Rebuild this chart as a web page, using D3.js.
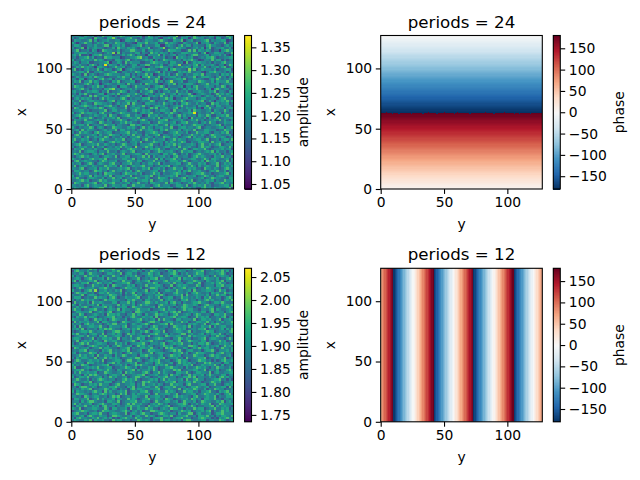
<!DOCTYPE html>
<html>
<head>
<meta charset="utf-8">
<script src="https://cdn.jsdelivr.net/npm/d3@7"></script>
<style>
html,body{margin:0;padding:0;background:#fff}
svg{display:block}
text{font-family:"DejaVu Sans",sans-serif;fill:#000}
</style>
</head>
<body>
<svg id="chart" width="640" height="480"></svg>
<script>
const TITLE_24 = "periods = 24";
const TITLE_12 = "periods = 12";
const X_TICKS = [0, 50, 100];
const Y_TICKS = [0, 50, 100];
const AMP24_TICKS = [1.05, 1.10, 1.15, 1.20, 1.25, 1.30, 1.35];
const AMP12_TICKS = [1.75, 1.80, 1.85, 1.90, 1.95, 2.00, 2.05];
const PHASE_TICKS = [-150, -100, -50, 0, 50, 100, 150];
const AMP24_RANGE = [1.039, 1.376];
const AMP12_RANGE = [1.735, 2.069];
const PHASE_RANGE = [-180, 180];

// Amplitude level of each digit in the grids below
const AMP24_LEVELS = [1.06, 1.08, 1.10, 1.13, 1.17, 1.20, 1.235, 1.275, 1.31, 1.36];
const AMP12_LEVELS = [1.75, 1.77, 1.80, 1.825, 1.865, 1.895, 1.93, 1.97, 2.01, 2.05];

// Phase by x coordinate for periods = 24, x = 0..127
const PHASE24_BY_X = [6,8,11,14,17,20,22,25,28,31,34,36,39,42,45,48,50,53,56,59,62,64,67,70,73,76,78,81,84,87,90,92,95,98,101,104,106,109,112,115,118,120,123,126,129,132,134,137,140,143,146,148,151,154,157,160,162,165,168,171,174,176,179,
-179,-176,-174,-171,-168,-165,-162,-160,-157,-154,-151,-148,-146,-143,-140,-137,-134,-132,-129,-126,-123,-120,-118,-115,-112,-109,-106,-104,-101,-98,-95,-92,-90,-87,-84,-81,-78,-76,-73,-70,-67,-64,-62,-59,-56,-53,-50,-48,-45,-42,-39,-36,-34,-31,-28,-25,-22,-20,-17,-14,-11,-8,-6,-3,-1];
// Wrap-around cells along the seam of the periods = 24 phase panel
const SEAM_LOW_Y = [9,14,24,33,44,58,70,89,105,109,118];
const SEAM_HIGH_Y = [4,37,50,60,82,97];

// Phase by y coordinate for periods = 12, y = 0..127
const PHASE12_BY_Y = [72,83,95,106,117,129,140,152,163,174,
-174,-163,-152,-140,-129,-117,-106,-95,-83,-72,-60,-49,-38,-26,-15,-3,8,19,31,42,54,65,76,88,99,111,122,133,145,156,168,179,
-170,-158,-147,-136,-124,-113,-101,-90,-79,-67,-56,-45,-33,-22,-11,1,12,23,35,46,58,69,80,92,103,114,126,137,149,160,171,
-175,-164,-152,-141,-130,-118,-107,-96,-84,-73,-61,-50,-39,-27,-16,-5,7,18,30,41,52,64,75,86,98,109,121,132,143,155,166,177,
-171,-160,-149,-137,-126,-114,-103,-92,-80,-69,-58,-46,-35,-23,-12,-1,11,22,34,45,56,68,79];

// Amplitude grids, top row first, 64 x 64 levels
const AMP24_ROWS = [
"4554365462437556345764435566247534653345582446537435546635443765",
"5346654427554366853445674435356645325564743655247655345426634574",
"3655445736345564455236655743465544675433655724563445673545566234",
"6424575534656345476553443266574556344756543365445725564365447356",
"4665335546445773556463345567354446622565435746635544367554435645",
"5345726456554344637554656435557344568345476553345646257345564463",
"4573445365237655446345577544635645543476655334747365465344256755",
"3556664545443465827354454663543756465535344666545535724466553447",
"5647334256674555344464675354426555736445635553467744563555646325",
"4535567463443766555234455678453365546344275654563345466753445566",
"6344655547565344366546734544565625347655445365675423554746635345",
"4653556334455672446537465553344676554536644527346565545354467455",
"5546443675354946553645346635577445463356558344546736455643552476",
"3465756542665434575563446554423546675545344656536645743556467345",
"5734356454743655346724565443667554345626755443857346555463445663",
"4456647335565445673355454765355446736454336565744553246675545354",
"6545373564344676555446635354574623556463475535446657355445365647",
"3465455647655334446575536442668554734556645344557346665435745356",
"5536624553467456354564473555346457625344566573446554335647545463",
"4657355746535443657345566234555647453568445633555476544636555744",
"5344467535624565446553745446376555324465735456664345574556345566",
"4765534465756344552666434755545346675354445625536744565535476345",
"3456745355443667845345564644573556446735553464655744356267545534",
"5645346566535473445765355436456743535564474546335565446573554365",
"4536574434566255647344655753464535567445636555742456545347564653",
"6455343747545664353556745446235565474536455344676553465535744556",
"3564656534357465544675354554667344355756244567555346644553567443",
"5447345665544356735446655634545763445356645753445567346425565746",
"4653564437665545346455737544366554547545353667544645533756455634",
"5345676545344667453558346455745346656434565745445365574536644553",
"3764453556576345654447355664534757355644673546556342657445553566",
"4556645344455734664555346754656435466553745544637554456365447534",
"6345756655367445345765544535656744534657543455669354454755636445",
"4567344546545637553456744655237556454465357464545365476335565744",
"5436565753446455647344565573445564735556446355274554636457345566",
"3655474445655364456755345646753454566734555643465745345565746435",
"5744356654376455344657564435556344765545634667445535647553446556",
"4556647345544765635544377565344656445736556354457665344556735445",
"6435455763565344765544656435746535564547335664554673455445663557",
"4563746554345645573664545357456644365745546356547344665553447654",
"5347565436754566344556745644355676453345675546344755664355465734",
"3675445565364457655354647455364456735544656344575546435765544563",
"4556357446554763544645355674456535447664553456736455344675565345",
"5744656345367554465573446553574464556345746553445664573445356647",
"6435546754455346756445355647344576553646545763354466553745645354",
"4567345565744654534576445635556744353565746445565357446456734556",
"5346564473556345465746553844575635445664537455644357565344665474",
"3655745546443765556344676545354656745335564475346655743455564563",
"4547356665355474453565467344556345764556434755663454565736445356",
"5764544356467355644573445665374555436645753546345675445564635447",
"4356756445534665473556634455747364556453674455346756544365574553",
"6545344675565734454466557354565447363556745344566445753665445636",
"3674565544357645563445765466345574555346664575345546375564454735",
"5456346753565446744355674553546645735445566345754465634557346564",
"4735564465444756563745346556745534465673554446575364565447355646",
"5546734556365574445656734544657355646345755634656443755465346754",
"3665455347664535745546463575544566347455546365745564435657446355",
"4457566445353766544357655646344575635445676453345667545344556735",
"6346545736554647355564473445565734644556573446556345764535664455",
"5574435665446355745634556754465344766535445673554456345765544366",
"4456756344575644655367454355664734565547344665573454565635447556",
"3765445567346556744545635574453665544736565344657545464355674545",
"5545367456554734655466347555644356745553466547346565745344556637",
"4654556345677445365545763446555734465566345754645336755465544573"
];
const AMP12_ROWS = [
"5463445756345566744535465573644556345765344556637445565734465544",
"3675546445367554657344556645354765544365746553445667344556574635",
"4546635755443466545735664534557645634456753546445766345545675344",
"6354474565636544755346565744356645574453665544736556453474565536",
"4565356744556375446656345573454667355446547365564435765546344675",
"5736445657345544665475553464567345546745566344557654365446573554",
"3454667345764556345566743555446576345564745535664473455646755344",
"5665534475545363765544656345474556653447356565444763455536674556",
"4357645564466754533457665546345776454353645674556345476555634465",
"6445356748355645465734556644573556344665475545637445566534756344",
"3576564453466575544636457355465564735444675546356754453656447565",
"5445735665344557664535446756345546675344565737445655463547566344",
"4666345447565536753446555673446545735566344756454653657445534675",
"5354756564434756655443657545366454573565443667455354675644535647",
"3745546375565444663555746344577546455636745354456675543466575444",
"6536445564736555447465546357565443675545634476556534675544365657",
"4464675345556746435566347655444563755464354676553445756634455764",
"5755344667445356547365544675556344567465534575664435546736544565",
"3466555734565467345564453776544556345646757344565546635744553567",
"5547634456545376656443557465364457565534674456535764454366557443",
"4365574665344566745535467544655637344556745665344756563445467356",
"6554465347564535765446345567454563747554366455547346656445735564",
"3746556445736654553476544565346775534566454756344665574535464557",
"5455367564453465774556346545675344566737455443656545734667544556",
"4637445665574436555467345566453576445534765564735446557364566445",
"5564735445365767544355646574435667455344576563455466735544563647",
"4345665754556344677545536446575356647344566545735445576634555467",
"6574453566447355646534756455344667545635445773564456354665743545",
"3456647455365744566535474456657345543765566344746555643547565344",
"5665344573546656447355464575634456765443557646534456735665443575",
"4473565646543755664345567436556745443566457345765546635445756344",
"5346757445665534475646345566743555467345656744535466575344656547",
"6555434676545463557644563475646534457656345544776535464556347564",
"3764556345574665443556735446655744353767554465346575664534475546",
"4546673554436567454565734456347665543456757435664453566743555646",
"5635445766355447564534675546445735665443556746345766544535674553",
"4457564563744655364576445536675544563457656345447655346756544563",
"5364665447355746565344565774453654667345564537445566734456557345",
"3576445655647344566535774465345656744553467565344576645353467556",
"4645537664545356746445565734465536754456347565645344767545536644",
"6454765344556673455646345767554436565744355466573446556574363455",
"5733456565744566344557654635446575344667554536445765643547554463",
"4566745344665575436544567364556475346554767344556645735546344675",
"3647556556344765445637565444675355746544366557434665547356445566",
"5455364767544535665473445566734556445637565344746556357544466355",
"6346657445563547564456345775465344656745534466757355446453675644",
"4575446354676545534467565743445656357465545637446755344566745353",
"5644565734554666345475565344767545344656735546647553445765634456",
"3765344656475553467445566354745564653447565536744456635574435656",
"4536775465345546675443657354566447535665744553466754563445566374",
"5454656734455764653545367466544556734565447356557644635476553445",
"6365545467553746445657345546674355644756534475664535567443656745",
"4476654355467645534757346465556347455664573445566345765546435674",
"5545376456644535767345546654473556645344675655436744565573544666",
"3664557345746455636544756534567446553765344556476453665574435545",
"4553646775445366547345566744655347545664563475546347655446573564",
"5746455634567544665345747556443565764534456675354646557344765556",
"4365574465636745535446675564437556545673445664575344556736456543",
"6547345566544753664556374465575644356547664535447566345574465635",
"3456765445347665544567535646344776554563445765634556467354575644",
"5674453566574435665447356546755344676545536445773564456346675554",
"4545636754465534776544563564475653446657345567445366574535466547",
"5367554465745646343567554756445356674453566745534467655343656754",
"4654465736556443756645534476565354475664545367754456635544765346"
];

const COL_LEFT = {plot: 71.3, bar: 244.6}, COL_RIGHT = {plot: 380.7, bar: 553.3};
const PLOT_W = {left: 162.2, right: 161.6};
const BAR_W = {left: 6.9, right: 7};
const ROW_TOP = {top: 35.5, height: 153.5}, ROW_BOTTOM = {top: 268.3, height: 153.5};
const X_MAX = 127.6, Y_MAX = 127.3;

const RDBU_R = ["#053061","#2166ac","#4393c3","#92c5de","#d1e5f0","#f7f7f7","#fddbc7","#f4a582","#d6604d","#b2182b","#67001f"];
const viridis = d3.interpolateViridis;
const rdbu = d3.piecewise(d3.interpolateRgb, RDBU_R);
const svg = d3.select("#chart");

let clipCount = 0;
function frame(col, row, width) {
  const g = svg.append("g");
  const xs = d3.scaleLinear([0, X_MAX], [col.plot, col.plot + width]);
  const ys = d3.scaleLinear([0, Y_MAX], [row.top + row.height, row.top]);
  const id = "clip" + (++clipCount);
  svg.append("clipPath").attr("id", id).append("rect")
    .attr("x", col.plot).attr("y", row.top).attr("width", width).attr("height", row.height);
  const cells = g.append("g").attr("clip-path", `url(#${id})`).attr("shape-rendering", "crispEdges");
  return {g, xs, ys, cells, width};
}

function finishFrame(p, col, row, title, labelX) {
  const {g, xs, ys, width} = p;
  const bottom = row.top + row.height;
  g.append("rect").attr("x", col.plot).attr("y", row.top).attr("width", width).attr("height", row.height)
    .attr("fill", "none").attr("stroke", "#000").attr("stroke-width", 1.1);
  const ax = g.append("g").attr("transform", `translate(0,${bottom})`)
    .call(d3.axisBottom(xs).tickValues(X_TICKS).tickSize(4.9).tickPadding(3.6));
  const ay = g.append("g").attr("transform", `translate(${col.plot},0)`)
    .call(d3.axisLeft(ys).tickValues(Y_TICKS).tickSize(4.9).tickPadding(3.6));
  [ax, ay].forEach(a => {
    a.select(".domain").remove();
    a.selectAll("line").attr("stroke", "#000").attr("stroke-width", 1.1);
    a.selectAll("text").style("font-size", "13.89px").style("font-family", '"DejaVu Sans"');
  });
  g.append("text").attr("x", col.plot + width / 2).attr("y", row.top - 8)
    .attr("text-anchor", "middle").style("font-size", "16.67px").text(title);
  g.append("text").attr("x", col.plot + width / 2).attr("y", bottom + 40)
    .attr("text-anchor", "middle").style("font-size", "13.89px").text("y");
  g.append("text").attr("transform", `translate(${labelX},${row.top + row.height / 2}) rotate(-90)`)
    .attr("text-anchor", "middle").style("font-size", "13.89px").text("x");
}

function colorbar(col, row, w, range, ticks, format, interp, label, labelX) {
  const g = svg.append("g");
  const ys = d3.scaleLinear(range, [row.top + row.height, row.top]);
  const color = d3.scaleSequential(interp).domain(range);
  const steps = d3.range(256);
  const band = d3.scaleBand(steps, [row.top + row.height, row.top]);
  g.append("g").attr("shape-rendering", "crispEdges").selectAll("rect").data(steps).join("rect")
    .attr("x", col.bar).attr("width", w)
    .attr("y", d => band(d)).attr("height", band.bandwidth() + 0.6)
    .attr("fill", d => color(range[0] + (d + 0.5) / 256 * (range[1] - range[0])));
  g.append("rect").attr("x", col.bar).attr("y", row.top).attr("width", w).attr("height", row.height)
    .attr("fill", "none").attr("stroke", "#000").attr("stroke-width", 1.1);
  const a = g.append("g").attr("transform", `translate(${col.bar + w},0)`)
    .call(d3.axisRight(ys).tickValues(ticks).tickFormat(format).tickSize(4.9).tickPadding(3.6));
  a.select(".domain").remove();
  a.selectAll("line").attr("stroke", "#000").attr("stroke-width", 1.1);
  a.selectAll("text").style("font-size", "13.89px").style("font-family", '"DejaVu Sans"');
  g.append("text").attr("transform", `translate(${labelX},${row.top + row.height / 2}) rotate(-90)`)
    .attr("text-anchor", "middle").style("font-size", "13.89px").text(label);
}

function amplitudePanel(col, row, width, title, rows, levels, range, ticks, labelX, barLabelX, barW) {
  const p = frame(col, row, width);
  const color = d3.scaleSequential(viridis).domain(range);
  const n = rows.length, m = rows[0].length;
  const data = rows.flatMap((r, j) => Array.from(r, (c, i) => ({i, j: n - 1 - j, v: levels[+c]})));
  const sx = 128 / m, sy = 128 / n;
  p.cells.selectAll("rect").data(data).join("rect")
    .attr("x", d => p.xs(d.i * sx))
    .attr("y", d => p.ys((d.j + 1) * sy))
    .attr("width", d => p.xs((d.i + 1) * sx) - p.xs(d.i * sx))
    .attr("height", d => p.ys(d.j * sy) - p.ys((d.j + 1) * sy))
    .attr("fill", d => color(d.v));
  finishFrame(p, col, row, title, labelX);
  colorbar(col, row, barW, range, ticks, d3.format(".2f"), viridis, "amplitude", barLabelX);
}

const phaseColor = d3.scaleSequential(rdbu).domain(PHASE_RANGE);

// periods = 24: phase advances along x, with a noisy seam at the wrap
(function () {
  const col = COL_RIGHT, row = ROW_TOP, width = PLOT_W.right;
  const p = frame(col, row, width);
  p.cells.selectAll("rect.band").data(PHASE24_BY_X).join("rect").attr("class", "band")
    .attr("x", col.plot).attr("width", width)
    .attr("y", (d, i) => p.ys(i + 1)).attr("height", (d, i) => p.ys(i) - p.ys(i + 1))
    .attr("fill", d => phaseColor(d));
  const seam = [
    ...SEAM_LOW_Y.map(y => ({x: 62, y, v: -178})),
    ...SEAM_HIGH_Y.map(y => ({x: 63, y, v: 178}))
  ];
  p.cells.selectAll("rect.seam").data(seam).join("rect").attr("class", "seam")
    .attr("x", d => p.xs(d.y)).attr("width", d => p.xs(d.y + 1) - p.xs(d.y))
    .attr("y", d => p.ys(d.x + 1)).attr("height", d => p.ys(d.x) - p.ys(d.x + 1))
    .attr("fill", d => phaseColor(d.v));
  finishFrame(p, col, row, TITLE_24, 335);
  colorbar(col, row, BAR_W.right, PHASE_RANGE, PHASE_TICKS, d3.format("d"), rdbu, "phase", 623.5);
})();

// periods = 12: phase advances along y
(function () {
  const col = COL_RIGHT, row = ROW_BOTTOM, width = PLOT_W.right;
  const p = frame(col, row, width);
  p.cells.selectAll("rect").data(PHASE12_BY_Y).join("rect")
    .attr("y", row.top).attr("height", row.height)
    .attr("x", (d, i) => p.xs(i)).attr("width", (d, i) => p.xs(i + 1) - p.xs(i))
    .attr("fill", d => phaseColor(d));
  finishFrame(p, col, row, TITLE_12, 335);
  colorbar(col, row, BAR_W.right, PHASE_RANGE, PHASE_TICKS, d3.format("d"), rdbu, "phase", 623.5);
})();

amplitudePanel(COL_LEFT, ROW_TOP, PLOT_W.left, TITLE_24, AMP24_ROWS, AMP24_LEVELS, AMP24_RANGE, AMP24_TICKS, 25.6, 307.5, BAR_W.left);
amplitudePanel(COL_LEFT, ROW_BOTTOM, PLOT_W.left, TITLE_12, AMP12_ROWS, AMP12_LEVELS, AMP12_RANGE, AMP12_TICKS, 25.6, 307.5, BAR_W.left);
</script>
</body>
</html>
